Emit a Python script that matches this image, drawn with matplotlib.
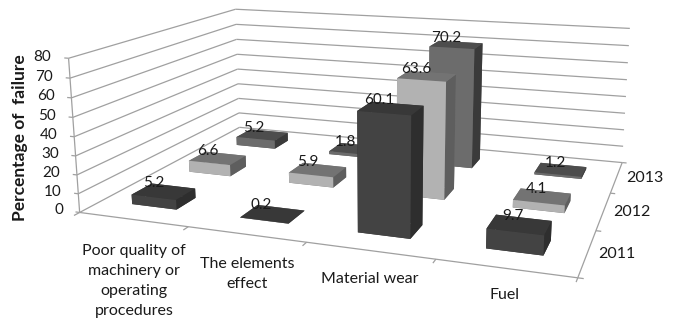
import numpy as np
import matplotlib
matplotlib.use("Agg")
import matplotlib.pyplot as plt
from mpl_toolkits.mplot3d import Axes3D, proj3d
from mpl_toolkits.mplot3d.art3d import Line3DCollection

plt.rcParams["font.family"] = ["Lato", "DejaVu Sans"]

categories = ["Poor quality of\nmachinery or\noperating\nprocedures", "The elements\neffect", "Material wear", "Fuel"]
years = ["2011", "2012", "2013"]
values_2011 = [5.2, 0.2, 60.1, 9.7]
values_2012 = [6.6, 5.9, 63.6, 4.1]
values_2013 = [5.2, 1.8, 70.2, 1.2]
series = [values_2011, values_2012, values_2013]
z_ticks = list(range(0, 81, 10))

# face colours per series: bottom, top, front, back, left, right
faces_2011 = ["#333333", "#383838", "#434343", "#333333", "#333333", "#2e2e2e"]
faces_2012 = ["#777777", "#737373", "#b2b2b2", "#777777", "#777777", "#5e5e5e"]
faces_2013 = ["#555555", "#4d4d4d", "#6c6c6c", "#555555", "#555555", "#3a3a3a"]
face_colors = [faces_2011, faces_2012, faces_2013]

# box corners in the plot (x, y, z) and where they sit in the picture (px, py)
box_points = [
    (0, 0, 0, 80, 212), (0, 0, 80, 69, 58), (0, 3, 80, 235, 9), (0, 3, 20, 239, 98),
    (4, 3, 80, 630, 29), (4, 3, 0, 620, 163), (4, 0, 0, 576, 276),
    (1, 0, 0, 188, 228), (2, 0, 0, 306, 243), (3, 0, 0, 435, 260),
    (4, 1, 0, 598, 230), (4, 2, 0, 613, 193),
]


def fit_camera(points):
    rows = []
    for x, y, z, px, py in points:
        X = [x, y, z / 20, 1]
        u, v = px / 100, py / 100
        rows.append(X + [0, 0, 0, 0] + [-u * c for c in X])
        rows.append([0, 0, 0, 0] + X + [-v * c for c in X])
    p = np.linalg.svd(np.array(rows))[2][-1].reshape(3, 4)
    p = p @ np.diag([1, 1, 1 / 20, 1])
    p = np.diag([100, 100, 1]) @ p
    p = p / (p[2] @ np.array([2, 1.5, 40, 1]))
    return p


fig = plt.figure(figsize=(6.76, 3.2), dpi=100)
ax = fig.add_axes([0, 0, 1, 1], projection="3d")
ax.set_axis_off()
ax.computed_zorder = False
ax.apply_aspect = lambda position=None: None

P = fit_camera(box_points)
vl = ax.viewLim
to_view = np.array([[vl.width / 676, 0, vl.x0],
                    [0, -vl.height / 320, vl.y0 + vl.height],
                    [0, 0, 1]])
Q = to_view @ P
M = np.vstack([Q[0], Q[1], Q[2] - np.array([0, 0, 0, 1.0]), Q[2]])
ax.get_proj = lambda: M


def label(x, y, z, s, **kw):
    u, v, _ = proj3d.proj_transform(x, y, z, M)
    ax.text2D(u, v, s, transform=ax.transData, color="#1a1a1a", zorder=31, **kw)


segments = []
for z in z_ticks:
    segments.append([(0, 0, z), (0, 3, z)])
    segments.append([(0, 3, z), (4, 3, z)])
    segments.append([(0, 0, z), (-0.04, 0, z)])
    label(-0.16, 0, z, str(z), ha="right", va="center", fontsize=11)
segments.append([(0, 0, 0), (0, 0, 80)])
segments.append([(0, 0, 0), (4, 0, 0)])
segments.append([(4, 0, 0), (4, 3, 0)])
for i in range(5):
    segments.append([(i, 0, 0), (i, -0.08, 0)])
for j in range(4):
    segments.append([(4, j, 0), (4.04, j, 0)])
ax.add_collection3d(Line3DCollection(segments, colors="#a0a0a0", linewidths=0.9, zorder=1))

w = 0.42
d = 0.33
label_shift = [0, 0, 0.01, 0.06]
for j in range(2, -1, -1):
    for i, v in enumerate(series[j]):
        ax.bar3d(i + 0.5 - w / 2, j + 0.5 - d / 2, 0, w, d, v, color=face_colors[j],
                 edgecolor="none", shade=False, zsort="max", zorder=10 + (2 - j) * 5 + i)
        label(i + 0.38 + label_shift[i], j + 0.55, v + 3, str(v), ha="center", va="center", fontsize=11)

for i, name in enumerate(categories):
    label(i + 0.5, 0, -13 + i * 1.2, name, ha="center", va="top", fontsize=11.5, linespacing=1.55)
for j, name in enumerate(years):
    label(4.08, j + 0.5, 0, name, ha="left", va="center", fontsize=11.5)

fig.text(20 / 676, 1 - 138 / 320, "Percentage of  failure", rotation=90, ha="center", va="center",
         fontsize=12.5, fontweight="bold", color="#1a1a1a")

fig.savefig("out.png", dpi=100)
